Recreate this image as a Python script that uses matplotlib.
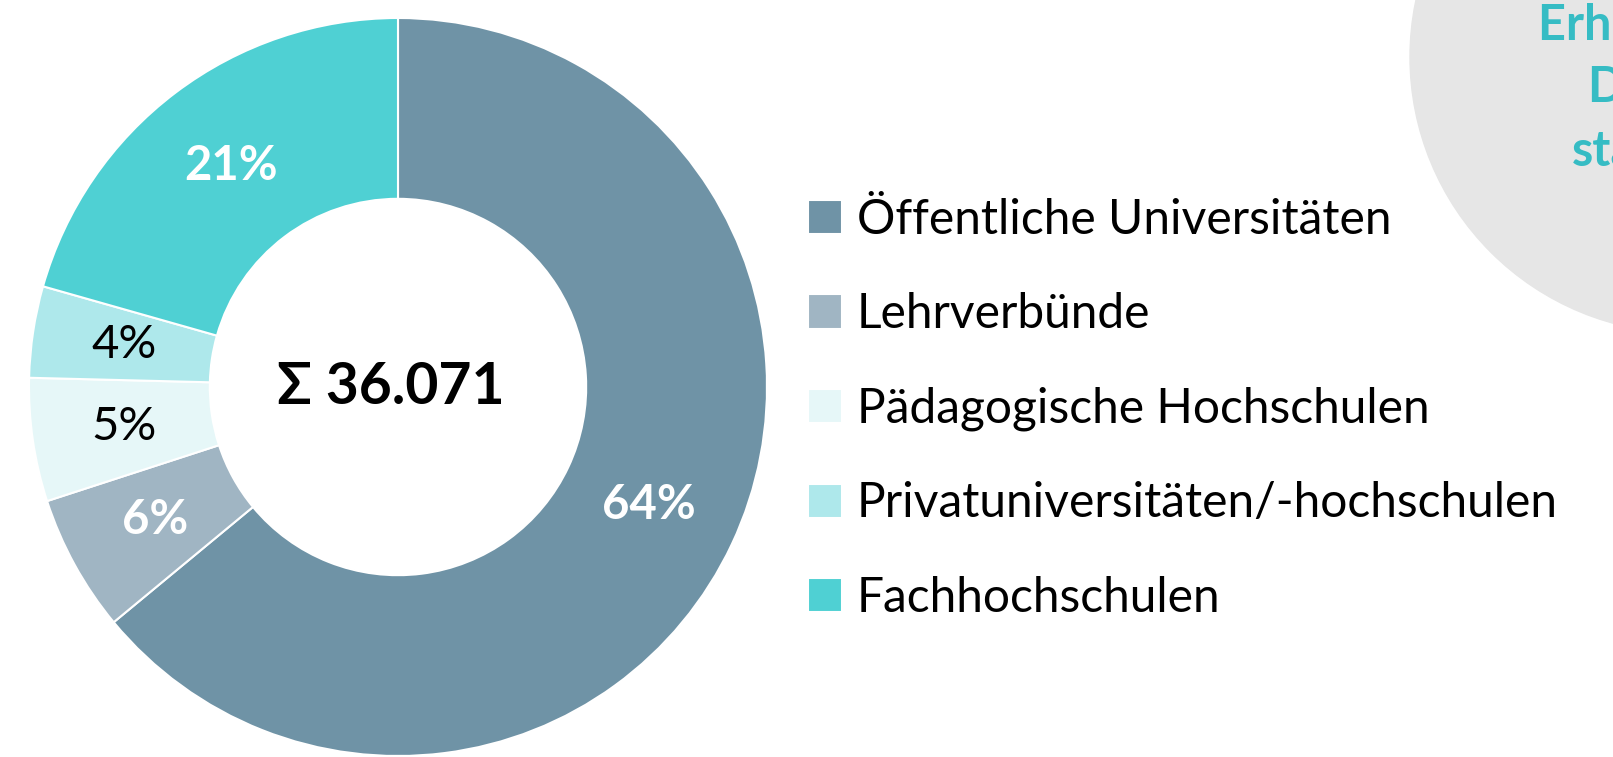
import matplotlib
matplotlib.use("Agg")
import matplotlib.pyplot as plt
from matplotlib.patches import Circle

plt.rcParams['font.family'] = ['Lato', 'DejaVu Sans']

# Data
categories = ['Öffentliche Universitäten', 'Lehrverbünde', 'Pädagogische Hochschulen',
              'Privatuniversitäten/-hochschulen', 'Fachhochschulen']
counts = [23085, 2164, 1948, 1443, 7431]
colors = ['#6F93A6', '#A0B5C3', '#E6F7F8', '#AEE8EB', '#4FD0D3']
label_colors = ['white', 'white', 'black', 'black', 'white']
label_weights = ['bold', 'bold', 'normal', 'normal', 'bold']
side_lines = ['Erhebung der', 'Daten über', 'statistik.at']

W, H = 1613, 757
fig = plt.figure(figsize=(W / 100, H / 100), dpi=100)

# grey circle in the top right corner (partly off the figure)
bg = fig.add_axes([0, 0, 1, 1])
bg.set_xlim(0, W)
bg.set_ylim(H, 0)
bg.axis('off')
bg.add_patch(Circle((1686, 57), 276, color='#E6E6E6', zorder=0))
for txt, x, y in zip(side_lines, [1538, 1588, 1572], [25, 88, 152]):
    bg.text(x, y, txt, color='#36BCC4', fontsize=35, fontweight='bold',
            ha='left', va='center')

# donut
cx, cy, r = 398, 387, 369
ax = fig.add_axes([(cx - r) / W, (H - cy - r) / H, 2 * r / W, 2 * r / H])
wedges, texts, autotexts = ax.pie(
    counts, colors=colors, startangle=90, counterclock=False,
    autopct=lambda p: '%d%%' % round(p), pctdistance=0.75,
    wedgeprops=dict(width=0.49, edgecolor='white', linewidth=1.5))
ax.set_xlim(-1, 1)
ax.set_ylim(-1, 1)
ax.set_aspect('equal')

for t, c, w in zip(autotexts, label_colors, label_weights):
    t.set_color(c)
    t.set_fontweight(w)
    t.set_fontsize(34)

total = sum(counts)
ax.text(-0.02, 0, 'Σ ' + f'{total:,}'.replace(',', '.'), ha='center', va='center',
        fontsize=41, fontweight='bold', color='black')

# legend
fig.legend(wedges, categories, loc='upper left', bbox_to_anchor=(784 / W, 1 - 174 / H),
           frameon=False, fontsize=34.5, handlelength=0.72, handleheight=0.72,
           handletextpad=0.3, labelspacing=1.05, borderpad=0)

fig.savefig('out.png', dpi=100)
